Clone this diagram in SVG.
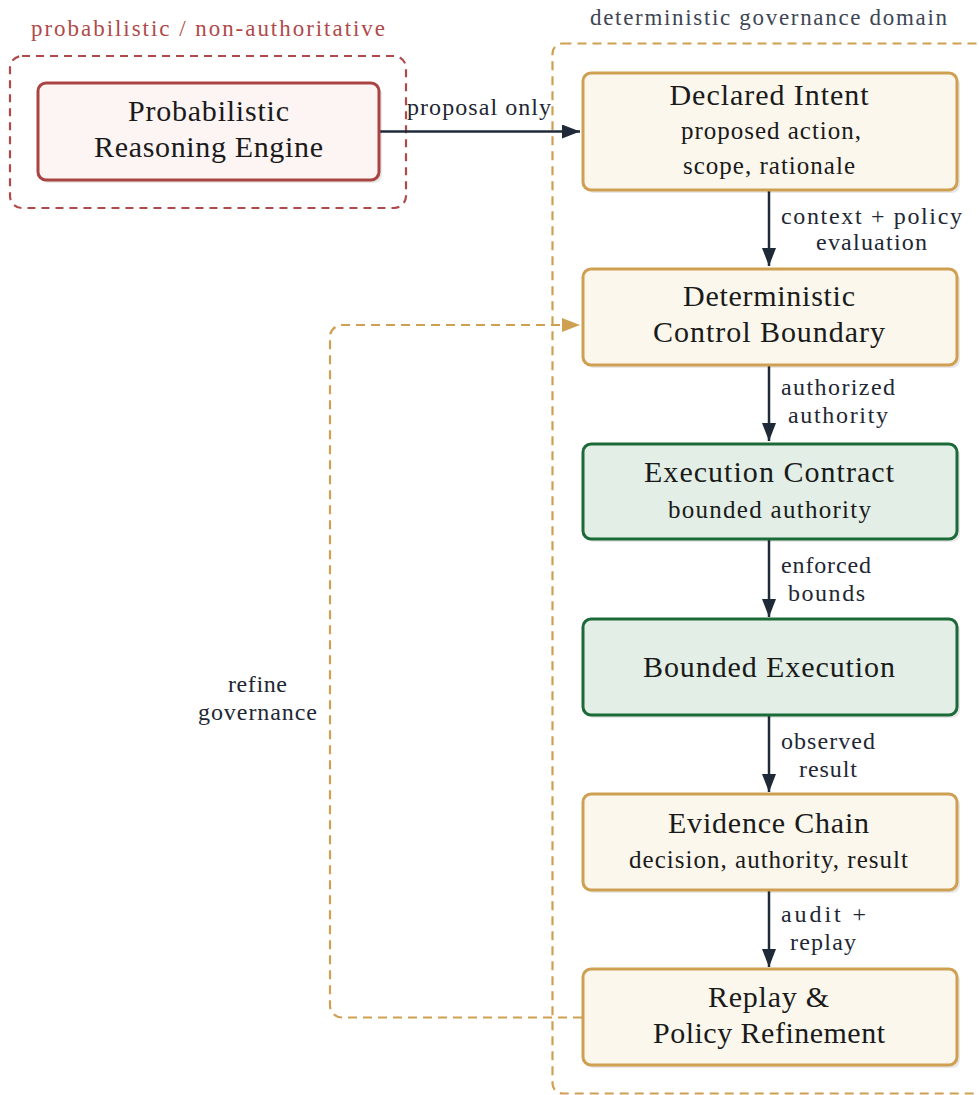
<svg xmlns="http://www.w3.org/2000/svg" width="979" height="1095" viewBox="0 0 979 1095">
  <style>
    text { font-family: "Liberation Serif", "Times New Roman", serif; fill: #1a1a1a; text-anchor: middle; }
    .title { font-size: 30px; }
    .sub { font-size: 25px; }
    .edge { font-size: 24px; fill: #1e2733; }
    .glabel { font-size: 23px; }
    .shadow { fill: #000; opacity: 0.09; }
    .gold { fill: #fbf7ec; stroke: #cfa052; stroke-width: 3; }
    .green { fill: #e3efe6; stroke: #1b6a37; stroke-width: 3; }
    .red { fill: #fdf4f4; stroke: #a94442; stroke-width: 3; }
    .dark { stroke: #1e2a38; stroke-width: 2.5; fill: none; }
    .fb { stroke: #cfa052; stroke-width: 2.2; fill: none; stroke-dasharray: 9 6; }
  </style>
  <defs>
    <marker id="arrDark" viewBox="0 0 18 14" refX="18" refY="7" markerWidth="18" markerHeight="14" markerUnits="userSpaceOnUse" orient="auto">
      <path d="M0,0 L18,7 L0,14 z" fill="#1e2a38"/>
    </marker>
    <marker id="arrGold" viewBox="0 0 18 14" refX="18" refY="7" markerWidth="18" markerHeight="14" markerUnits="userSpaceOnUse" orient="auto">
      <path d="M0,0 L18,7 L0,14 z" fill="#cfa052"/>
    </marker>
  </defs>

  <!-- groups / domains -->
  <g id="probabilistic-domain">
    <rect x="10" y="56" width="396" height="152" rx="12" fill="none" stroke="#b04a4a" stroke-width="2.2" stroke-dasharray="8 6"/>
    <text class="glabel" x="208" y="36" style="fill:#b04a4a" textLength="354" lengthAdjust="spacing">probabilistic / non-authoritative</text>
  </g>
  <g id="deterministic-domain">
    <rect x="552.5" y="43.5" width="460" height="1050" rx="10" fill="none" stroke="#cfa052" stroke-width="2.2" stroke-dasharray="9 6"/>
    <text class="glabel" x="768.5" y="25" style="fill:#3d4654" textLength="357" lengthAdjust="spacing">deterministic governance domain</text>
  </g>

  <!-- connectors -->
  <g id="connectors">
    <line class="dark" x1="379" y1="131.5" x2="580" y2="131.5" marker-end="url(#arrDark)"/>
    <text class="edge" x="479" y="115" textLength="144" lengthAdjust="spacing">proposal only</text>

    <line class="dark" x1="769" y1="190" x2="769" y2="266" marker-end="url(#arrDark)"/>
    <text class="edge" x="871.5" y="224" textLength="181" lengthAdjust="spacing">context + policy</text>
    <text class="edge" x="871.5" y="250" textLength="111" lengthAdjust="spacing">evaluation</text>

    <line class="dark" x1="769" y1="366" x2="769" y2="441" marker-end="url(#arrDark)"/>
    <text class="edge" x="838" y="395" textLength="114" lengthAdjust="spacing">authorized</text>
    <text class="edge" x="838" y="423" textLength="100" lengthAdjust="spacing">authority</text>

    <line class="dark" x1="769" y1="540" x2="769" y2="617" marker-end="url(#arrDark)"/>
    <text class="edge" x="826" y="573" textLength="90" lengthAdjust="spacing">enforced</text>
    <text class="edge" x="826.5" y="601" textLength="77" lengthAdjust="spacing">bounds</text>

    <line class="dark" x1="769" y1="715" x2="769" y2="792" marker-end="url(#arrDark)"/>
    <text class="edge" x="828" y="749" textLength="94" lengthAdjust="spacing">observed</text>
    <text class="edge" x="828" y="777" textLength="58" lengthAdjust="spacing">result</text>

    <line class="dark" x1="769" y1="891" x2="769" y2="967" marker-end="url(#arrDark)"/>
    <text class="edge" x="823.5" y="922" textLength="85" lengthAdjust="spacing">audit +</text>
    <text class="edge" x="823" y="950" textLength="66" lengthAdjust="spacing">replay</text>

    <path class="fb" d="M582,1017.5 H342 A12,12 0 0 1 330,1005.5 V337 A12,12 0 0 1 342,325 H580" marker-end="url(#arrGold)"/>
    <text class="edge" x="257.5" y="692" textLength="59" lengthAdjust="spacing">refine</text>
    <text class="edge" x="257.5" y="720" textLength="119" lengthAdjust="spacing">governance</text>
  </g>

  <!-- nodes -->
  <g id="reasoning-engine">
    <rect class="shadow" x="41" y="86" width="341" height="97" rx="8"/>
    <rect class="red" x="38" y="83" width="341" height="97" rx="8"/>
    <text class="title" x="208.5" y="121" textLength="161" lengthAdjust="spacing">Probabilistic</text>
    <text class="title" x="208.5" y="157" textLength="229" lengthAdjust="spacing">Reasoning Engine</text>
  </g>

  <g id="declared-intent">
    <rect class="shadow" x="586" y="76" width="374" height="117" rx="8"/>
    <rect class="gold" x="583" y="73" width="374" height="117" rx="8"/>
    <text class="title" x="769" y="104.5" textLength="199" lengthAdjust="spacing">Declared Intent</text>
    <text class="sub" x="771" y="138.5" textLength="180" lengthAdjust="spacing">proposed action,</text>
    <text class="sub" x="769" y="174" textLength="172" lengthAdjust="spacing">scope, rationale</text>
  </g>

  <g id="control-boundary">
    <rect class="shadow" x="586" y="272" width="374" height="96" rx="8"/>
    <rect class="gold" x="583" y="269" width="374" height="96" rx="8"/>
    <text class="title" x="769" y="306" textLength="172" lengthAdjust="spacing">Deterministic</text>
    <text class="title" x="769" y="342" textLength="232" lengthAdjust="spacing">Control Boundary</text>
  </g>

  <g id="execution-contract">
    <rect class="shadow" x="586" y="447" width="374" height="95" rx="8"/>
    <rect class="green" x="583" y="444" width="374" height="95" rx="8"/>
    <text class="title" x="769" y="482" textLength="250" lengthAdjust="spacing">Execution Contract</text>
    <text class="sub" x="769.5" y="518" textLength="203" lengthAdjust="spacing">bounded authority</text>
  </g>

  <g id="bounded-execution">
    <rect class="shadow" x="586" y="622" width="374" height="96" rx="8"/>
    <rect class="green" x="583" y="619" width="374" height="96" rx="8"/>
    <text class="title" x="769" y="677" textLength="252" lengthAdjust="spacing">Bounded Execution</text>
  </g>

  <g id="evidence-chain">
    <rect class="shadow" x="586" y="797" width="374" height="96" rx="8"/>
    <rect class="gold" x="583" y="794" width="374" height="96" rx="8"/>
    <text class="title" x="768.5" y="833" textLength="201" lengthAdjust="spacing">Evidence Chain</text>
    <text class="sub" x="768.5" y="867.5" textLength="279" lengthAdjust="spacing">decision, authority, result</text>
  </g>

  <g id="replay-refinement">
    <rect class="shadow" x="586" y="972" width="374" height="96" rx="8"/>
    <rect class="gold" x="583" y="969" width="374" height="96" rx="8"/>
    <text class="title" x="768.5" y="1007" textLength="121" lengthAdjust="spacing">Replay &amp;</text>
    <text class="title" x="769" y="1043" textLength="232" lengthAdjust="spacing">Policy Refinement</text>
  </g>
</svg>
